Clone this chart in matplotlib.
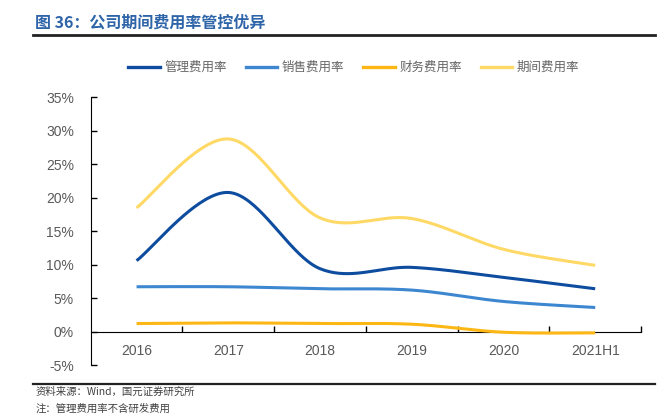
import numpy as np
import matplotlib
matplotlib.use("Agg")
import matplotlib.pyplot as plt
from matplotlib.lines import Line2D

plt.rcParams['font.family'] = ['Noto Sans CJK SC', 'DejaVu Sans']

categories = ['2016', '2017', '2018', '2019', '2020', '2021H1']
admin_rate = [10.6, 20.8, 9.4, 9.6, 8.1, 6.4]
sales_rate = [6.7, 6.7, 6.4, 6.2, 4.5, 3.6]
finance_rate = [1.2, 1.3, 1.2, 1.1, -0.1, -0.2]
period_rate = [18.5, 28.8, 17.0, 16.9, 12.3, 9.9]

series_names = ['管理费用率', '销售费用率', '财务费用率', '期间费用率']
series_colors = ['#0D4C9E', '#3D87D1', '#FDB714', '#FFD966']
yticks = [-5, 0, 5, 10, 15, 20, 25, 30, 35]


def smooth(xs, ys, n=40):
    xs = np.asarray(xs, float)
    ys = np.asarray(ys, float)
    P = np.column_stack([xs, ys])
    out = []
    m = len(P)
    for i in range(m - 1):
        p0 = P[i - 1] if i > 0 else P[i]
        p1 = P[i]
        p2 = P[i + 1]
        p3 = P[i + 2] if i + 2 < m else P[i + 1]
        c1 = p1 + (p2 - p0) / 6.0
        c2 = p2 - (p3 - p1) / 6.0
        t = np.linspace(0, 1, n)[:, None]
        seg = ((1 - t) ** 3) * p1 + 3 * ((1 - t) ** 2) * t * c1 + 3 * (1 - t) * t ** 2 * c2 + t ** 3 * p2
        out.append(seg if i == 0 else seg[1:])
    s = np.vstack(out)
    return s[:, 0], s[:, 1]


fig = plt.figure(figsize=(6.65, 4.17), dpi=100)
ax = fig.add_axes([0.1364, 0.1247, 0.8276, 0.6415])

x = np.arange(len(categories))
for vals, col in zip([admin_rate, sales_rate, finance_rate, period_rate], series_colors):
    sx, sy = smooth(x, vals)
    ax.plot(sx, sy, color=col, lw=2.2, solid_capstyle='butt', zorder=3)

ax.set_xlim(-0.5, len(categories) - 0.5)
ax.set_ylim(-5, 35)
ax.set_yticks(yticks)
ax.set_yticklabels([f'{v}%' for v in yticks], fontsize=10, color='#595959', family=['Liberation Sans', 'DejaVu Sans'])
ax.tick_params(axis='y', direction='in', length=4, width=1, color='black', pad=12)

for s in ['top', 'right']:
    ax.spines[s].set_visible(False)
ax.spines['left'].set_color('black')
ax.spines['bottom'].set_position(('data', 0))
ax.spines['bottom'].set_color('black')
ax.set_xticks(x)
ax.set_xticklabels(categories, fontsize=10, color='#595959', family=['Liberation Sans', 'DejaVu Sans'])
ax.tick_params(axis='x', which='major', length=0, pad=9)
ax.set_xticks(np.arange(0.5, len(categories), 1.0), minor=True)
ax.tick_params(axis='x', which='minor', direction='in', length=4, width=1, color='black')

# legend
handles = [Line2D([0], [0], color=c, lw=2.4) for c in series_colors]
fig.legend(handles, series_names, loc='center', bbox_to_anchor=(0.532, 0.838), ncol=4,
           frameon=False, fontsize=9, handlelength=2.5, columnspacing=1.55, handletextpad=0.35,
           labelcolor='#666666')

# title and rules
fig.text(0.053, 0.945, '图 36：公司期间费用率管控优异', fontsize=11.5, fontweight='bold',
         color='#2E64A8', va='center', ha='left')
fig.add_artist(Line2D([0.05, 0.985], [0.917, 0.917], color='#222222', lw=2, transform=fig.transFigure))
fig.add_artist(Line2D([0.05, 0.985], [0.079, 0.079], color='#222222', lw=1.6, transform=fig.transFigure))
fig.text(0.053, 0.060, '资料来源：Wind，国元证券研究所', fontsize=7.5, color='#404040', va='center')
fig.text(0.053, 0.020, '注：管理费用率不含研发费用', fontsize=7.5, color='#404040', va='center')

fig.savefig('out.png', dpi=100)
